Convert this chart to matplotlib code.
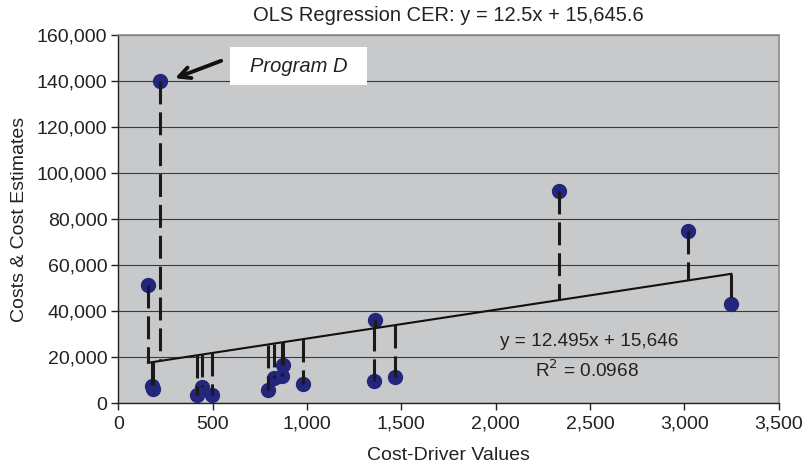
import numpy as np
import matplotlib.pyplot as plt
from matplotlib.patches import Rectangle
from matplotlib.ticker import FuncFormatter

plt.rcParams['font.family'] = ['Liberation Sans', 'DejaVu Sans']

# data program: nilai cost driver dan biaya aktual
cost_driver = [157, 180, 182, 222, 418, 445, 495, 791, 825, 869, 872, 977,
               1357, 1362, 1465, 2335, 3020, 3250]
costs = [51500, 7500, 6000, 140000, 3600, 7200, 3600, 5900, 11100, 11800,
         16600, 8300, 9800, 36300, 11300, 92200, 74900, 43100]

# koefisien CER hasil OLS
slope = 12.495
intercept = 15646
r_squared = 0.0968

x = np.array(cost_driver, dtype=float)
y = np.array(costs, dtype=float)
y_fit = slope * x + intercept

fig = plt.figure(figsize=(8.05, 4.70), dpi=100)
ax = fig.add_axes([0.1471, 0.1419, 0.820, 0.7836])
ax.set_facecolor('#c8c9cb')

ax.set_xlim(0, 3500)
ax.set_ylim(0, 160000)
ax.set_yticks(np.arange(0, 160001, 20000))
ax.set_xticks(np.arange(0, 3501, 500))
ax.yaxis.set_major_formatter(FuncFormatter(lambda v, p: f"{v:,.0f}"))
ax.xaxis.set_major_formatter(FuncFormatter(lambda v, p: f"{v:,.0f}"))
ax.tick_params(axis='both', labelsize=14, colors='#222222', length=5,
               width=1, direction='out')
ax.tick_params(axis='x', pad=4)
ax.tick_params(axis='y', pad=3)

# garis grid horizontal
ax.grid(axis='y', color='#3a3a3a', linewidth=0.8)
ax.set_axisbelow(True)

for side in ['top', 'right']:
    ax.spines[side].set_color('#8c8c8c')
    ax.spines[side].set_linewidth(1.2)
for side in ['left', 'bottom']:
    ax.spines[side].set_color('#222222')
    ax.spines[side].set_linewidth(1.0)

# titik data
ax.plot(x, y, 'o', color='#23267a', markersize=10, zorder=3)

# garis regresi
xs = np.array([x.min(), x.max()])
ax.plot(xs, slope * xs + intercept, color='#111111', linewidth=1.5, zorder=4)

# residual (putus-putus), digambar dari ujung atas ke bawah
for xi, yi, fi in zip(x, y, y_fit):
    ax.plot([xi, xi], [max(yi, fi), min(yi, fi)], color='#1a1a1a',
            linewidth=2.2, linestyle=(0, (7.5, 2.6)), zorder=5)

ax.text(2023, 26800, f"y = {slope}x + {intercept:,}", fontsize=13.7,
        color='#222222', ha='left', va='center')
ax.text(2485, 14200, f"R$^2$ = {r_squared}", fontsize=13.7,
        color='#222222', ha='center', va='center')

# label Program D
ax.add_patch(Rectangle((593, 138300), 727, 16500, facecolor='white',
                       edgecolor='none', zorder=6))
ax.text(956, 146500, 'Program D', fontsize=14.5, style='italic',
        color='#222222', ha='center', va='center', zorder=7)
ax.annotate('', xy=(300, 141200), xytext=(545, 148800),
            arrowprops=dict(arrowstyle='->', color='#111111', lw=2.8,
                            mutation_scale=20, shrinkA=0, shrinkB=0),
            zorder=7)

ax.set_title('OLS Regression CER: y = 12.5x + 15,645.6', fontsize=14.5,
             color='#222222', pad=10)
ax.set_xlabel('Cost-Driver Values', fontsize=14, color='#222222', labelpad=10)
ax.set_ylabel('Costs & Cost Estimates', fontsize=14, color='#222222',
              labelpad=6)

fig.savefig('out.png', dpi=100)
